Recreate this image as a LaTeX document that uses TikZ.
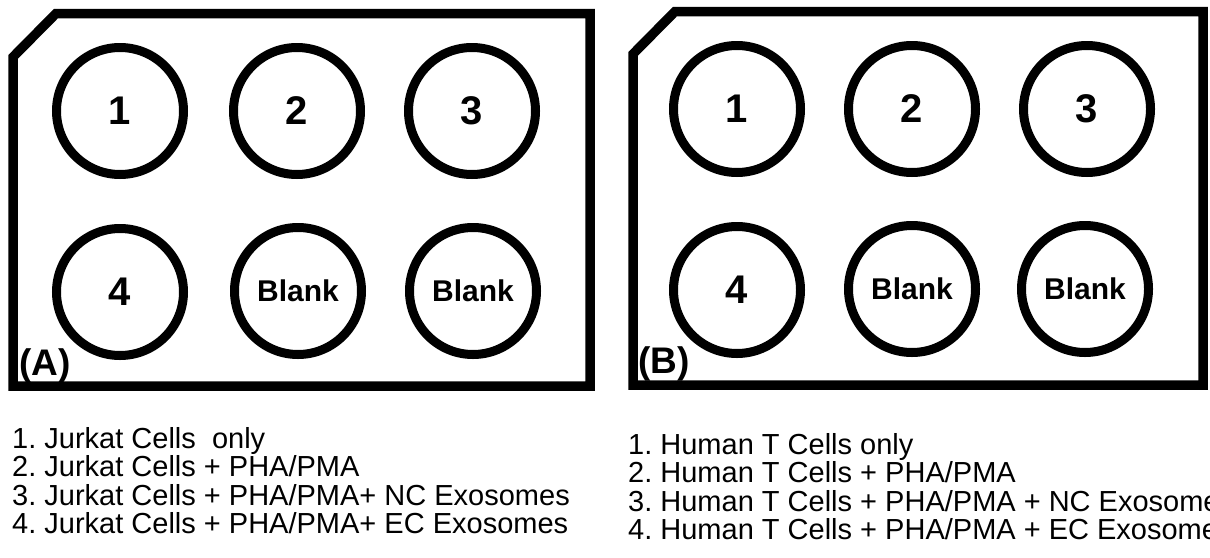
\documentclass[tikz,border=0pt]{standalone}
\usepackage{fontspec}
\setmainfont{Liberation Sans}
\frenchspacing
\begin{document}
\begin{tikzpicture}[x=1pt,y=-1pt,
  plate/.style={line width=9.5pt, line join=miter},
  well/.style={circle, draw, line width=9pt, minimum size=127pt, inner sep=0pt},
  num/.style={font=\bfseries\fontsize{40}{40}\selectfont},
  blank/.style={font=\bfseries\fontsize{30}{30}\selectfont},
  tag/.style={font=\bfseries\fontsize{37}{37}\selectfont, anchor=base west, inner sep=0pt},
  legend/.style={font=\fontsize{29}{29}\selectfont, anchor=base west, inner sep=0pt}]
\useasboundingbox (0,0) rectangle (1210,557);
\clip (0,0) rectangle (1210,557);
% Plate A
\draw[plate] (13,57) -- (56,13.5) -- (590,13.5) -- (590,386) -- (13,386) -- cycle;
\node[well,num]   (a1) at (120,111) {1};
\node[well,num]   (a2) at (297,111) {2};
\node[well,num]   (a3) at (472,111) {3};
\node[well,num]   (a4) at (120,292) {4};
\node[well,blank] (a5) at (298,291) {Blank};
\node[well,blank] (a6) at (473,291) {Blank};
\node[tag] (ta) at (19,375) {(A)};
% Plate B
\draw[plate] (633,54) -- (675,11.5) -- (1203,11.5) -- (1203,385) -- (633,385) -- cycle;
\node[well,num]   (b1) at (737,109) {1};
\node[well,num]   (b2) at (912,109) {2};
\node[well,num]   (b3) at (1087,109) {3};
\node[well,num]   (b4) at (737,290) {4};
\node[well,blank] (b5) at (912,289) {Blank};
\node[well,blank] (b6) at (1085,289) {Blank};
\node[tag] (tb) at (638,373) {(B)};
% Legends
\node[legend] (la1) at (12,448) {1. Jurkat Cells~ only};
\node[legend] (la2) at (12,476.5) {2. Jurkat Cells + PHA/PMA};
\node[legend] (la3) at (12,505) {3. Jurkat Cells + PHA/PMA+ NC Exosomes};
\node[legend] (la4) at (12,533.5) {4. Jurkat Cells + PHA/PMA+ EC Exosomes};
\node[legend] (lb1) at (628,454) {1. Human T Cells only};
\node[legend] (lb2) at (628,482.5) {2. Human T Cells + PHA/PMA};
\node[legend] (lb3) at (628,511) {3. Human T Cells + PHA/PMA + NC Exosomes};
\node[legend] (lb4) at (628,539.5) {4. Human T Cells + PHA/PMA + EC Exosomes};
\end{tikzpicture}
\end{document}
